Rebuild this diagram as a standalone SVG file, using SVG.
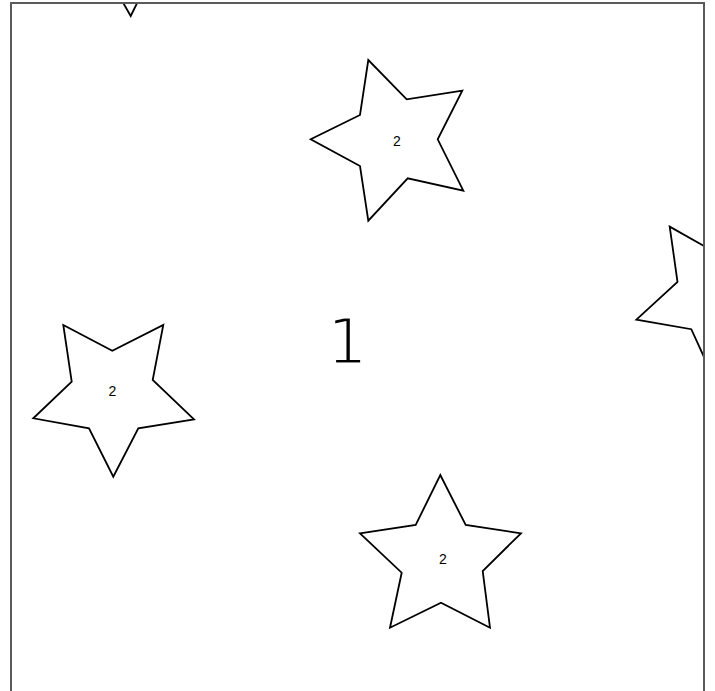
<svg xmlns="http://www.w3.org/2000/svg" width="715" height="691" viewBox="0 0 715 691">
  <style>
    .star { fill: #ffffff; stroke: #000000; stroke-width: 1.8; stroke-linejoin: miter; }
    .lbl { font-family: "Liberation Sans", Arial, sans-serif; font-size: 14px; fill: #000000; text-anchor: middle; }
    .big { font-family: "DejaVu Sans", sans-serif; font-size: 64px; fill: #000000; stroke: #ffffff; stroke-width: 2.8; paint-order: fill stroke; text-anchor: middle; }
    .frame { fill: none; stroke: #5a5a5a; stroke-width: 2; }
  </style>
  <defs>
    <clipPath id="area">
      <rect x="11" y="3" width="693" height="700"/>
    </clipPath>
  </defs>
  <rect x="0" y="0" width="715" height="691" fill="#ffffff"/>
  <g id="node-1">
    <text class="big" x="347" y="363.5">1</text>
  </g>
  <g clip-path="url(#area)">
    <g id="star-top-clipped">
      <polygon class="star" points="130.7,16 96.7,-43.3 105.7,-102 64.3,-94.6 90,-126.1 130.7,-152 105.7,-102 130.7,-152 171.4,-126.1 155.7,-102 197.1,-94.6 164.7,-43.3 155.4,-34 130.7,16"/>
    </g>
    <g id="star-a">
      <polygon class="star" points="368.3,60 406.7,99.3 462.3,90.7 437.7,139.3 463.3,190.7 407.7,178.3 368.3,220.7 360,166 310.7,139.3 360,115"/>
      <text class="lbl" x="397" y="145.5">2</text>
    </g>
    <g id="star-b">
      <polygon class="star" points="63.3,325 112.3,350.7 163.3,325 152.7,380 194,419.3 138.3,428.3 113.3,476.7 89,428.3 33.3,418.3 71.7,381.7"/>
      <text class="lbl" x="112.5" y="396">2</text>
    </g>
    <g id="star-c">
      <polygon class="star" points="440.3,475 465.7,525 521,533.3 482.7,571 490,627.7 441,602.7 390,627.7 401.7,572.7 360,533.3 415.7,525"/>
      <text class="lbl" x="443" y="564">2</text>
    </g>
    <g id="star-d">
      <polygon class="star" points="669.7,226.6 718.2,254 768.4,229.5 757.3,284.2 796.1,324.3 740.7,330.7 714.5,380 691.3,329.2 636.4,319.6 677.5,281.8"/>
    </g>
  </g>
  <g id="frame">
    <rect class="frame" x="11" y="3" width="693" height="700"/>
  </g>
</svg>
